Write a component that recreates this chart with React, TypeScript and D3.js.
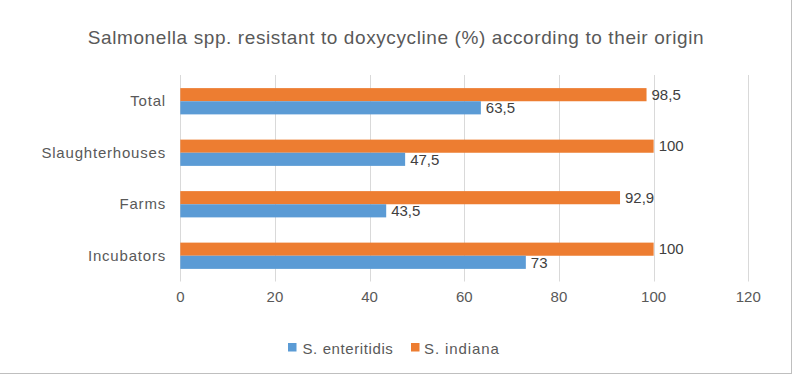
import React from "react";
import * as d3 from "d3";

const categories = ["Total", "Slaughterhouses", "Farms", "Incubators"];
const enteritidis = [63.5, 47.5, 43.5, 73];
const indiana = [98.5, 100, 92.9, 100];
const xTicks = [0, 20, 40, 60, 80, 100, 120];
const seriesNames = ["S. enteritidis", "S. indiana"];
const title = "Salmonella spp. resistant to doxycycline (%) according to their origin";

const W = 793;
const H = 376;
const BLUE = "#5B9BD5";
const ORANGE = "#ED7D31";
const FONT = "'Liberation Sans', Arial, sans-serif";

const fmt = (v: number) => String(v).replace(".", ",");

export default function App() {
  const x = d3.scaleLinear().domain([0, 120]).range([180.3, 748.3]);
  const y = d3.scaleBand<string>().domain(categories).range([75.5, 281.5]).paddingInner(0.49).paddingOuter(0.245);
  const sub = d3.scaleBand<string>().domain(["indiana", "enteritidis"]).range([0, y.bandwidth()]);

  return (
    <svg width={W} height={H} style={{ position: "absolute", left: 0, top: 0, background: "#fff" }} fontFamily={FONT}>
      <rect x={0} y={0} width={W} height={H} fill="#fff" />
      <text x={396} y={44} textAnchor="middle" fontSize={19} letterSpacing={0.6} fill="#595959">{title}</text>
      {xTicks.map((t) => (
        <g key={t}>
          <line x1={Math.round(x(t)) + 0.5} x2={Math.round(x(t)) + 0.5} y1={75} y2={281.5} stroke="#D9D9D9" strokeWidth={1} />
          <text x={x(t)} y={302} textAnchor="middle" fontSize={15} fill="#595959">{t}</text>
        </g>
      ))}
      {categories.map((c, i) => {
        const y0 = y(c)!;
        return (
          <g key={c}>
            <text x={166} y={y0 + y.bandwidth() / 2 + 5} textAnchor="end" fontSize={15} letterSpacing={0.8} fill="#595959">{c}</text>
            <rect x={x(0)} y={y0 + sub("indiana")!} width={x(indiana[i]) - x(0)} height={sub.bandwidth()} fill={ORANGE} />
            <rect x={x(0)} y={y0 + sub("enteritidis")!} width={x(enteritidis[i]) - x(0)} height={sub.bandwidth()} fill={BLUE} />
            <text x={x(indiana[i]) + 5} y={y0 + sub("indiana")! + sub.bandwidth() / 2 + 5} fontSize={15} fill="#404040">{fmt(indiana[i])}</text>
            <text x={x(enteritidis[i]) + 5} y={y0 + sub("enteritidis")! + sub.bandwidth() / 2 + 5.5} fontSize={15} fill="#404040">{fmt(enteritidis[i])}</text>
          </g>
        );
      })}
      <rect x={288} y={343} width={8.5} height={8.5} fill={BLUE} />
      <text x={302.5} y={354} fontSize={15} letterSpacing={0.6} fill="#595959">{seriesNames[0]}</text>
      <rect x={411} y={343} width={8.5} height={8.5} fill={ORANGE} />
      <text x={424} y={354} fontSize={15} letterSpacing={0.9} fill="#595959">{seriesNames[1]}</text>
      <line x1={791.5} x2={791.5} y1={0} y2={374} stroke="#BFBFBF" />
      <line x1={0} x2={792} y1={373.5} y2={373.5} stroke="#BFBFBF" />
    </svg>
  );
}
